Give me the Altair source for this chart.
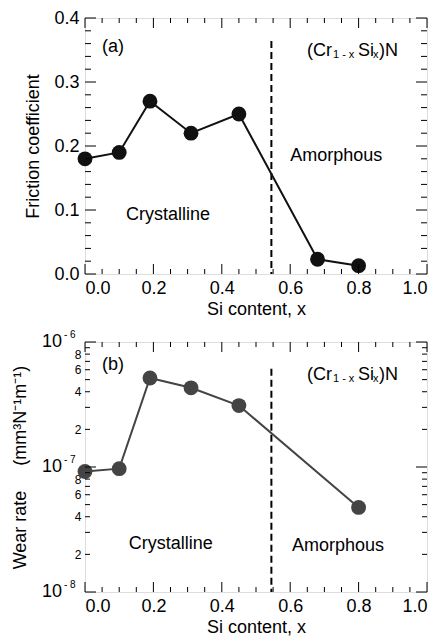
import altair as alt
import pandas as pd

FONT = "Liberation Sans"

# ---------------- data ----------------
top_x = [0.0, 0.1, 0.19, 0.31, 0.45, 0.68, 0.80]
top_y = [0.18, 0.19, 0.27, 0.22, 0.25, 0.023, 0.013]

bot_x = [0.0, 0.1, 0.19, 0.31, 0.45, 0.80]
bot_y = [9.2e-8, 9.7e-8, 5.15e-7, 4.3e-7, 3.1e-7, 4.75e-8]

x_major = [0.0, 0.2, 0.4, 0.6, 0.8, 1.0]
x_minor = [0.05, 0.1, 0.15, 0.25, 0.3, 0.35, 0.45, 0.5, 0.55, 0.65, 0.7, 0.75, 0.85, 0.9, 0.95]

top_y_major = [0.0, 0.1, 0.2, 0.3, 0.4]
top_y_minor = [0.02, 0.04, 0.06, 0.08, 0.12, 0.14, 0.16, 0.18, 0.22, 0.24, 0.26, 0.28,
               0.32, 0.34, 0.36, 0.38]

bot_decades = [1e-8, 1e-7, 1e-6]
bot_decade_sup = ["- 8", "- 7", "- 6"]
bot_minor = [k * 1e-8 for k in range(2, 10)] + [k * 1e-7 for k in range(2, 10)]
bot_labeled = [2e-8, 4e-8, 6e-8, 8e-8, 2e-7, 4e-7, 6e-7, 8e-7]

boundary_x = 0.545
top_boundary_y = [0.364, 0.0]
bot_boundary_y = [6.1e-7, 1e-8]

top_texts = ["(a)", "Amorphous", "Crystalline"]
top_text_x = [0.05, 0.60, 0.12]
top_text_y = [0.355, 0.184, 0.092]

bot_texts = ["(b)", "Amorphous", "Crystalline"]
bot_text_x = [0.05, 0.605, 0.128]
bot_text_y = [6.55e-7, 2.35e-8, 2.42e-8]

formula_parts = ["(Cr", "1 - x", "Si", "x", ")N"]
formula_dx = [0, 26, 51, 66, 72]
formula_size = [18, 11, 18, 11, 18]
formula_dy = [0, 4, 0, 4, 0]
top_formula_pos = (0.649, 0.348)
bot_formula_pos = (0.649, 5.45e-7)

W_PLOT = 342
H_TOP = 256
H_BOT = 250

xscale = alt.Scale(domain=[0, 1], nice=False, zero=False, padding=0)
ytop_scale = alt.Scale(domain=[0, 0.4], nice=False, zero=False, padding=0)
ybot_scale = alt.Scale(type="log", domain=[1e-8, 1e-6], nice=False, padding=0)


def x_ticks(height, values, length):
    df = pd.DataFrame({"x": values})
    b = alt.Chart(df).mark_rule(color="black", strokeWidth=1)
    bottom = b.encode(x=alt.X("x:Q", scale=xscale),
                      y=alt.value(height), y2=alt.value(height - length))
    top = b.encode(x=alt.X("x:Q", scale=xscale),
                   y=alt.value(0), y2=alt.value(length))
    return [bottom, top]


def y_ticks(values, scale, length):
    df = pd.DataFrame({"y": values})
    b = alt.Chart(df).mark_rule(color="black", strokeWidth=1)
    left = b.encode(y=alt.Y("y:Q", scale=scale),
                    x=alt.value(0), x2=alt.value(length))
    right = b.encode(y=alt.Y("y:Q", scale=scale),
                     x=alt.value(W_PLOT), x2=alt.value(W_PLOT - length))
    return [left, right]


def formula(pos, scale):
    layers = []
    for part, dx, size, dy in zip(formula_parts, formula_dx, formula_size, formula_dy):
        df = pd.DataFrame({"x": [pos[0]], "y": [pos[1]], "t": [part]})
        layers.append(
            alt.Chart(df).mark_text(align="left", baseline="middle", font=FONT,
                                    fontSize=size, dx=dx, dy=dy, color="black")
            .encode(x=alt.X("x:Q", scale=xscale), y=alt.Y("y:Q", scale=scale), text="t:N")
        )
    return layers


x_axis = alt.Axis(title="Si content, x", values=x_major, format=".1f", ticks=False,
                  domain=False, grid=False, labelPadding=5, titlePadding=3,
                  labelFontSize=18, titleFontSize=18, labelFont=FONT, titleFont=FONT,
                  titleFontWeight="normal", labelColor="black", titleColor="black")

# ---------------- top panel ----------------
top_df = pd.DataFrame({"x": top_x, "y": top_y})
top_base = alt.Chart(top_df).encode(
    x=alt.X("x:Q", scale=xscale, axis=x_axis),
    y=alt.Y("y:Q", scale=ytop_scale,
            axis=alt.Axis(title="Friction coefficient", values=top_y_major, format=".1f",
                          ticks=False, domain=False, grid=False, labelPadding=6,
                          titlePadding=11, labelFontSize=18, titleFontSize=18,
                          labelFont=FONT, titleFont=FONT, titleFontWeight="normal",
                          labelColor="black", titleColor="black")),
)
top_line = top_base.mark_line(color="#111111", strokeWidth=2)
top_pts = top_base.mark_circle(color="#111111", size=220, opacity=1)

top_bd = pd.DataFrame({"x": [boundary_x], "y": [top_boundary_y[0]], "y2": [top_boundary_y[1]]})
top_dash = alt.Chart(top_bd).mark_rule(color="black", strokeWidth=2, strokeDash=[7, 4]).encode(
    x=alt.X("x:Q", scale=xscale), y=alt.Y("y:Q", scale=ytop_scale), y2="y2:Q")

top_txt_df = pd.DataFrame({"x": top_text_x, "y": top_text_y, "t": top_texts})
top_txt = alt.Chart(top_txt_df).mark_text(align="left", baseline="middle", font=FONT,
                                          fontSize=18, color="black").encode(
    x=alt.X("x:Q", scale=xscale), y=alt.Y("y:Q", scale=ytop_scale), text="t:N")

top_layers = ([top_dash, top_line, top_pts, top_txt]
              + formula(top_formula_pos, ytop_scale)
              + x_ticks(H_TOP, x_major, 10) + x_ticks(H_TOP, x_minor, 5)
              + y_ticks(top_y_major, ytop_scale, 11) + y_ticks(top_y_minor, ytop_scale, 6))
top = alt.layer(*top_layers).properties(width=W_PLOT, height=H_TOP)

# ---------------- bottom panel ----------------
NB = "\u00a0"
bot_df = pd.DataFrame({"x": bot_x, "y": bot_y})
bot_base = alt.Chart(bot_df).encode(
    x=alt.X("x:Q", scale=xscale, axis=x_axis),
    y=alt.Y("y:Q", scale=ybot_scale,
            axis=alt.Axis(title="Wear rate" + NB * 5 + "(mm³N⁻¹m⁻¹)", values=bot_labeled,
                          labelExpr="format(datum.value < 1e-7 ? datum.value * 1e8 : datum.value * 1e7, '.0f')",
                          ticks=False, domain=False, grid=False, labelPadding=4,
                          minExtent=46, maxExtent=46, titlePadding=10,
                          labelFontSize=12, titleFontSize=18,
                          labelFont=FONT, titleFont=FONT, titleFontWeight="normal",
                          labelColor="black", titleColor="black")),
)
bot_line = bot_base.mark_line(color="#444444", strokeWidth=2)
bot_pts = bot_base.mark_circle(color="#444444", size=220, opacity=1)

bot_bd = pd.DataFrame({"x": [boundary_x], "y": [bot_boundary_y[0]], "y2": [bot_boundary_y[1]]})
bot_dash = alt.Chart(bot_bd).mark_rule(color="black", strokeWidth=2, strokeDash=[7, 4]).encode(
    x=alt.X("x:Q", scale=xscale), y=alt.Y("y:Q", scale=ybot_scale), y2="y2:Q")

bot_txt_df = pd.DataFrame({"x": bot_text_x, "y": bot_text_y, "t": bot_texts})
bot_txt = alt.Chart(bot_txt_df).mark_text(align="left", baseline="middle", font=FONT,
                                          fontSize=18, color="black").encode(
    x=alt.X("x:Q", scale=xscale), y=alt.Y("y:Q", scale=ybot_scale), text="t:N")

dec_df = pd.DataFrame({"y": bot_decades, "t": ["10"] * 3, "s": bot_decade_sup})
dec_main = alt.Chart(dec_df).mark_text(align="right", baseline="middle", font=FONT,
                                       fontSize=18, color="black").encode(
    x=alt.value(-23), y=alt.Y("y:Q", scale=ybot_scale), text="t:N")
dec_sup = alt.Chart(dec_df).mark_text(align="left", baseline="middle", font=FONT,
                                      fontSize=10, dy=-7, color="black").encode(
    x=alt.value(-21), y=alt.Y("y:Q", scale=ybot_scale), text="s:N")

bot_layers = ([bot_dash, bot_line, bot_pts, bot_txt, dec_main, dec_sup]
              + formula(bot_formula_pos, ybot_scale)
              + x_ticks(H_BOT, x_major, 10) + x_ticks(H_BOT, x_minor, 5)
              + y_ticks(bot_decades, ybot_scale, 11) + y_ticks(bot_minor, ybot_scale, 5))
bottom = alt.layer(*bot_layers).properties(width=W_PLOT, height=H_BOT)

chart = (
    alt.vconcat(top, bottom, spacing=10)
    .properties(padding={"left": 2, "top": 0, "right": 0, "bottom": 0})
    .configure_view(stroke="black", strokeWidth=1)
    .configure(background="white")
)

chart.save("out.html", embed_options={"renderer": "svg", "actions": False})
